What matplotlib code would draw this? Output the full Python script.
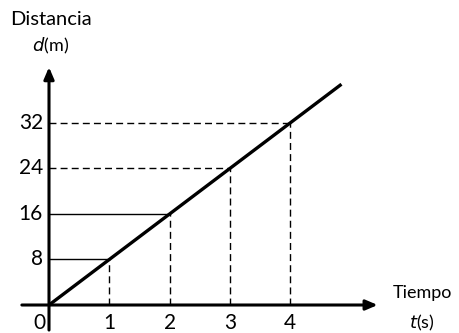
import matplotlib.pyplot as plt

# data: distance vs time, d = 8 t
t_ticks = [1, 2, 3, 4]
d_ticks = [8, 16, 24, 32]
line_t = [0, 4.85]
line_d = [0, 38.8]

plt.rcParams['font.family'] = ['Lato', 'DejaVu Sans']

fig = plt.figure(figsize=(4.59, 3.33), dpi=100)
ax = fig.add_axes([0, 0, 1, 1])
ax.set_xlim(-0.8126, 6.799)
ax.set_ylim(-4.92, 53.6)
ax.axis('off')

# axes with arrows
ax.annotate('', xy=(5.45, 0), xytext=(-0.45, 0),
            arrowprops=dict(arrowstyle='-|>,head_length=0.7,head_width=0.3',
                            lw=2.2, color='black', shrinkA=0, shrinkB=0))
ax.annotate('', xy=(0, 41.8), xytext=(0, -4.4),
            arrowprops=dict(arrowstyle='-|>,head_length=0.7,head_width=0.3',
                            lw=2.2, color='black', shrinkA=0, shrinkB=0))

# guide lines
for t, d in zip(t_ticks, d_ticks):
    ax.plot([t, t], [0, d], color='black', lw=1.0, ls=(0, (5, 3)))
    if d <= 16:
        ax.plot([0, t], [d, d], color='black', lw=1.0)
    else:
        ax.plot([0, t], [d, d], color='black', lw=1.0, ls=(0, (5, 3)))
    ax.text(-0.1, d, str(d), ha='right', va='center', fontsize=15)
    ax.text(t, -1.4, str(t), ha='center', va='top', fontsize=15)

ax.text(-0.05, -1.4, '0', ha='right', va='top', fontsize=15)

# data line
ax.plot(line_t, line_d, color='black', lw=2.4, solid_capstyle='butt')

# axis labels
ax.text(0.03, 50.1, 'Distancia', ha='center', va='center', fontsize=14.5)
ax.text(0.03, 45.6, r'$d$(m)', ha='center', va='center', fontsize=13)
ax.text(6.19, 2.1, 'Tiempo', ha='center', va='center', fontsize=13)
ax.text(6.19, -3.1, r'$t$(s)', ha='center', va='center', fontsize=13)

fig.savefig('out.png', dpi=100)
